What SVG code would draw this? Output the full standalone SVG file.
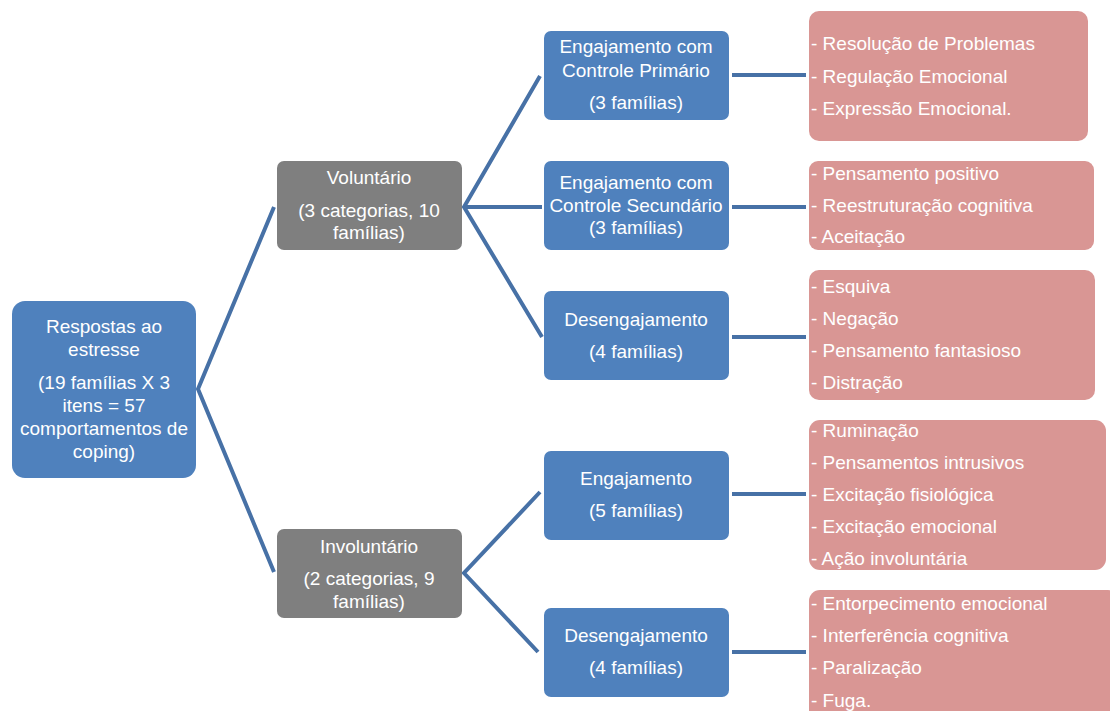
<svg xmlns="http://www.w3.org/2000/svg" width="1110" height="711" viewBox="0 0 1110 711">
<style>
.blue{fill:#4F81BD}
.grey{fill:#7F7F7F}
.pink{fill:#D99694}
text{font-family:"Liberation Sans",Arial,sans-serif;font-size:19px;fill:#FFFFFF}
.c{text-anchor:middle}
.conn{fill:none;stroke:#4771A6;stroke-width:4;stroke-linejoin:miter}
</style>
<rect width="1110" height="711" fill="#FFFFFF"/>
<g id="connectors" class="conn">
<polyline points="274,207 198,389 274,572"/>
<polyline points="540,76 464,207 542,337"/>
<line x1="464" y1="207" x2="542" y2="207"/>
<polyline points="540,492 464,573 538,652"/>
<line x1="732" y1="75" x2="806" y2="75"/>
<line x1="732" y1="207" x2="806" y2="207"/>
<line x1="732" y1="337" x2="806" y2="337"/>
<line x1="732" y1="494" x2="806" y2="494"/>
<line x1="732" y1="652" x2="806" y2="652"/>
</g>
<g id="root">
<rect class="blue" x="12" y="301" width="184" height="177" rx="13"/>
<text class="c" x="104" y="333">Respostas ao</text>
<text class="c" x="104" y="356">estresse</text>
<text class="c" x="104" y="389">(19 famílias X 3</text>
<text class="c" x="104" y="412">itens = 57</text>
<text class="c" x="104" y="435">comportamentos de</text>
<text class="c" x="104" y="458">coping)</text>
</g>
<g id="voluntario">
<rect class="grey" x="277" y="161" width="185" height="89" rx="7"/>
<text class="c" x="369" y="184">Voluntário</text>
<text class="c" x="369" y="217">(3 categorias, 10</text>
<text class="c" x="369" y="239">famílias)</text>
</g>
<g id="involuntario">
<rect class="grey" x="277" y="529" width="185" height="89" rx="7"/>
<text class="c" x="369" y="553">Involuntário</text>
<text class="c" x="369" y="585">(2 categorias, 9</text>
<text class="c" x="369" y="608">famílias)</text>
</g>
<g id="eng-primario">
<rect class="blue" x="544" y="31" width="185" height="89" rx="7"/>
<text class="c" x="636" y="53">Engajamento com</text>
<text class="c" x="636" y="77">Controle Primário</text>
<text class="c" x="636" y="109">(3 famílias)</text>
</g>
<g id="eng-secundario">
<rect class="blue" x="544" y="161" width="185" height="89" rx="7"/>
<text class="c" x="636" y="189">Engajamento com</text>
<text class="c" x="636" y="212">Controle Secundário</text>
<text class="c" x="636" y="234">(3 famílias)</text>
</g>
<g id="desengajamento-vol">
<rect class="blue" x="544" y="291" width="185" height="89" rx="7"/>
<text class="c" x="636" y="326">Desengajamento</text>
<text class="c" x="636" y="358">(4 famílias)</text>
</g>
<g id="engajamento-inv">
<rect class="blue" x="544" y="451" width="185" height="89" rx="7"/>
<text class="c" x="636" y="485">Engajamento</text>
<text class="c" x="636" y="517">(5 famílias)</text>
</g>
<g id="desengajamento-inv">
<rect class="blue" x="544" y="608" width="185" height="89" rx="7"/>
<text class="c" x="636" y="642">Desengajamento</text>
<text class="c" x="636" y="674">(4 famílias)</text>
</g>
<g id="lista1">
<rect class="pink" x="809" y="11" width="279" height="130" rx="10"/>
<text x="811" y="50">- Resolução de Problemas</text>
<text x="811" y="83">- Regulação Emocional</text>
<text x="811" y="115">- Expressão Emocional.</text>
</g>
<g id="lista2">
<rect class="pink" x="809" y="161" width="285" height="89" rx="9"/>
<text x="811" y="180">- Pensamento positivo</text>
<text x="811" y="212">- Reestruturação cognitiva</text>
<text x="811" y="243">- Aceitação</text>
</g>
<g id="lista3">
<rect class="pink" x="809" y="270" width="286" height="130" rx="10"/>
<text x="811" y="293">- Esquiva</text>
<text x="811" y="325">- Negação</text>
<text x="811" y="357">- Pensamento fantasioso</text>
<text x="811" y="389">- Distração</text>
</g>
<g id="lista4">
<rect class="pink" x="809" y="420" width="297" height="150" rx="11"/>
<text x="811" y="437">- Ruminação</text>
<text x="811" y="469">- Pensamentos intrusivos</text>
<text x="811" y="501">- Excitação fisiológica</text>
<text x="811" y="533">- Excitação emocional</text>
<text x="811" y="565">- Ação involuntária</text>
</g>
<g id="lista5">
<rect class="pink" x="809" y="590" width="310" height="140" rx="11"/>
<text x="811" y="610">- Entorpecimento emocional</text>
<text x="811" y="642">- Interferência cognitiva</text>
<text x="811" y="674">- Paralização</text>
<text x="811" y="707">- Fuga.</text>
</g>
</svg>
